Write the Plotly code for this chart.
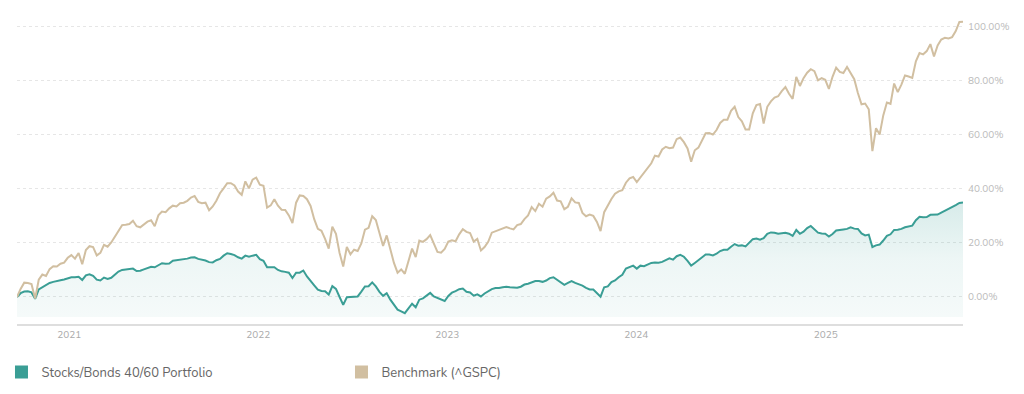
import pandas as pd
import plotly.graph_objects as go

# Weekly observations, cumulative return in percent
start_date = "2020-09-22"
n_weeks = 262

portfolio = [
    0, 1.4, 2.0, 2.1, 1.7, -0.7, 2.8, 3.6, 4.2, 5.2,
    5.6, 5.8, 6.2, 6.5, 6.8, 7.3, 7.3, 7.5, 6.3, 8.0,
    8.4, 7.8, 6.4, 6.1, 7.2, 6.7, 7.1, 8.2, 9.4, 10.0,
    10.1, 10.2, 10.5, 9.6, 9.7, 10.2, 10.8, 11.2, 11.0, 11.8,
    12.5, 12.3, 12.4, 13.4, 13.6, 13.7, 13.8, 14.2, 14.6, 14.7,
    14.1, 13.9, 13.5, 12.9, 12.8, 13.6, 14.1, 15.3, 16.2, 15.9,
    15.5, 14.7, 14.2, 15.3, 14.9, 15.3, 15.6, 14.0, 13.4, 11.0,
    11.0, 11.0, 10.0, 9.5, 9.3, 9.0, 7.0, 9.0, 9.0, 9.8,
    7.6, 5.8, 4.3, 2.7, 2.2, 2.1, 0.9, 4.0, 3.0, 0.0,
    -2.9, -0.1, 0, 0, 0.2, 2.0, 3.9, 4.0, 5.4, 3.9,
    1.9, 0.4, 1.4, -1.0, -2.9, -4.7, -5.3, -6.0, -4.2, -2.5,
    -3.8, -1.0, -0.5, 0.5, 1.5, 0.2, -0.4, -0.7, -1.5, 0.4,
    1.6, 2.2, 2.9, 3.1, 1.9, 1.7, 0.5, 1.0, 0.2, 1.3,
    2.2, 2.9, 3.3, 3.3, 3.6, 3.8, 3.6, 3.6, 3.4, 3.8,
    4.6, 4.9, 5.5, 5.9, 5.9, 5.6, 6.1, 7.0, 7.3, 6.4,
    5.5, 4.5, 5.2, 5.9, 5.2, 4.8, 4.2, 3.4, 2.8, 2.8,
    1.5, 0.1, 3.6, 3.9, 5.5, 6.1, 7.3, 8.2, 10.5, 11.2,
    11.6, 10.5, 11.6, 11.4, 11.9, 12.6, 12.8, 12.7, 13.0, 13.8,
    14.3, 13.8, 15.1, 15.6, 14.9, 13.4, 11.6, 12.6, 13.6, 14.6,
    15.7, 15.7, 15.4, 16.0, 17.0, 17.5, 17.5, 18.6, 19.6, 19.0,
    19.1, 18.7, 20.2, 21.4, 21.6, 21.2, 21.8, 23.4, 23.9, 23.8,
    23.4, 23.7, 23.8, 23.4, 22.6, 24.8, 23.4, 24.2, 25.5, 26.3,
    25.0, 23.8, 23.5, 23.4, 22.4, 23.3, 24.6, 24.9, 25.0, 25.2,
    25.8, 25.3, 25.2, 23.5, 22.8, 23.1, 18.5, 19.1, 19.4, 20.9,
    22.6, 23.2, 24.8, 24.9, 25.2, 25.8, 26.2, 26.4, 28.4, 29.7,
    29.5, 29.6, 30.4, 30.5, 30.5, 31.2, 31.9, 32.4, 33.0, 34.0,
    34.8, 35.0,
]

benchmark = [
    0, 3.0, 5.3, 5.2, 4.8, -0.6, 6.4, 8.3, 7.8, 10.3,
    11.4, 11.3, 12.3, 12.7, 14.5, 15.5, 14.2, 16.3, 12.1, 17.4,
    18.8, 18.5, 15.4, 16.3, 19.3, 18.6, 20.2, 22.5, 24.8, 26.6,
    26.7, 27.0, 28.2, 26.2, 25.8, 26.9, 27.9, 28.4, 26.2, 30.2,
    31.6, 31.4, 32.8, 33.8, 33.5, 34.7, 34.9, 35.6, 36.8, 37.4,
    35.2, 34.7, 34.9, 32.1, 33.5, 35.6, 38.4, 40.2, 42.1, 42.1,
    41.3, 39.0, 37.8, 42.8, 40.2, 43.4, 44.2, 41.6, 41.2, 33.1,
    33.9, 36.2, 33.8, 32.3, 32.2, 30.2, 27.4, 34.9, 37.6, 37.4,
    36.2, 33.7, 28.8, 25.2, 24.5, 21.5, 17.9, 26.0, 23.4, 16.3,
    11.3, 18.5, 15.8, 17.5, 17.0, 19.8, 24.9, 25.6, 29.9, 28.5,
    23.4, 18.9, 22.8, 17.5, 12.6, 9.0, 10.2, 8.6, 13.5, 17.9,
    14.8, 20.9, 20.4, 21.4, 22.9, 19.5, 16.7, 16.4, 17.8, 20.5,
    21.0, 20.6, 23.2, 25.1, 24.1, 23.7, 20.5, 21.5, 17.2, 18.5,
    20.4, 23.8, 24.3, 25.0, 25.4, 25.9, 25.4, 25.0, 26.6, 27.0,
    28.8, 30.2, 33.3, 31.8, 34.5, 33.4, 36.4, 37.2, 38.6, 35.7,
    35.4, 32.5, 33.4, 36.5, 35.0, 34.8, 31.1, 29.9, 30.5, 30.0,
    27.8, 24.4, 31.4, 34.0, 36.3, 38.2, 39.1, 39.5, 42.3, 43.9,
    44.4, 42.5, 44.3, 45.8, 47.5, 49.5, 52.3, 52.0, 54.6, 55.6,
    55.1, 55.3, 58.4, 59.0, 57.3, 55.0, 50.1, 54.3, 55.3, 58.1,
    60.6, 60.7, 60.1, 61.8, 64.4, 65.6, 65.6, 68.9, 70.4, 66.6,
    65.0, 62.0, 62.0, 68.0, 71.0, 71.4, 64.2, 70.4, 72.4, 73.8,
    74.3, 76.2, 77.7, 75.2, 73.3, 81.5, 78.1, 81.0, 83.0, 84.3,
    83.6, 80.2, 81.0, 80.4, 77.0, 81.5, 84.9, 83.3, 82.9, 85.1,
    82.6, 80.6, 75.5, 71.3, 71.6, 69.5, 54.0, 62.5, 60.1, 67.2,
    72.0, 71.5, 79.0, 75.8, 78.6, 82.0, 81.6, 81.1, 87.2, 90.3,
    89.8, 91.0, 93.6, 89.0, 93.1, 95.3, 95.9, 95.7, 96.2, 98.4,
    101.8, 101.9,
]

y_ticks = [0, 20, 40, 60, 80, 100]
series_names = ["Stocks/Bonds 40/60 Portfolio", "Benchmark (^GSPC)"]

TEAL = "#3a9e95"
TAN = "#d1bfa1"
FILL_FLOOR = -7.4
Y_RANGE = [-10, 104]

dates = pd.date_range(start_date, periods=n_weeks, freq="7D")

fig = go.Figure()

# baseline for the area fill
fig.add_trace(go.Scatter(
    x=dates, y=[FILL_FLOOR] * len(dates), mode="lines",
    line=dict(width=0, color="rgba(0,0,0,0)"), showlegend=False, hoverinfo="skip",
))
fig.add_trace(go.Scatter(
    x=dates, y=portfolio, mode="lines", name=series_names[0],
    line=dict(color=TEAL, width=2),
    fill="tonexty",
    fillgradient=dict(
        type="vertical",
        colorscale=[[0, "rgba(58,158,149,0.05)"], [0.5, "rgba(58,158,149,0.09)"],
                    [1, "rgba(58,158,149,0.2)"]],
        start=FILL_FLOOR, stop=max(portfolio),
    ),
    showlegend=False,
))
fig.add_trace(go.Scatter(
    x=dates, y=benchmark, mode="lines", name=series_names[1],
    line=dict(color=TAN, width=2), showlegend=False,
))

# legend entries
for name, col in zip(series_names, [TEAL, TAN]):
    fig.add_trace(go.Scatter(
        x=[None], y=[None], mode="markers", name=name,
        marker=dict(symbol="square", size=13, color=col),
    ))

fig.update_layout(
    width=1024, height=394,
    margin=dict(l=9, r=69, t=8, b=78, autoexpand=False),
    paper_bgcolor="white", plot_bgcolor="white",
    font=dict(family="Nunito, Lato, sans-serif", color="#666"),
    showlegend=True,
    legend=dict(
        orientation="h", xref="paper", yref="paper",
        x=-0.0164, xanchor="left", y=-0.156, yanchor="middle",
        font=dict(size=13, color="#666"), entrywidth=295, entrywidthmode="pixels",
        traceorder="normal", itemclick=False, bgcolor="rgba(0,0,0,0)",
    ),
    xaxis=dict(
        range=[dates[0], dates[-1]], showgrid=False, zeroline=False,
        tick0="2021-01-01", dtick="M12", tickformat="%Y",
        tickfont=dict(size=10, color="#aaa"),
        showline=True, linecolor="#dedede", linewidth=2, ticks="",
    ),
    yaxis=dict(
        range=Y_RANGE, side="right", tickvals=y_ticks,
        ticktext=[f"{v:.2f}%" for v in y_ticks],
        tickfont=dict(size=10, color="#bbb"),
        showgrid=True, gridcolor="#e6e6e6", griddash="3px,3px", gridwidth=1,
        zeroline=False, ticks="", ticklabelstandoff=4,
    ),
)

fig.write_html("out.html")
